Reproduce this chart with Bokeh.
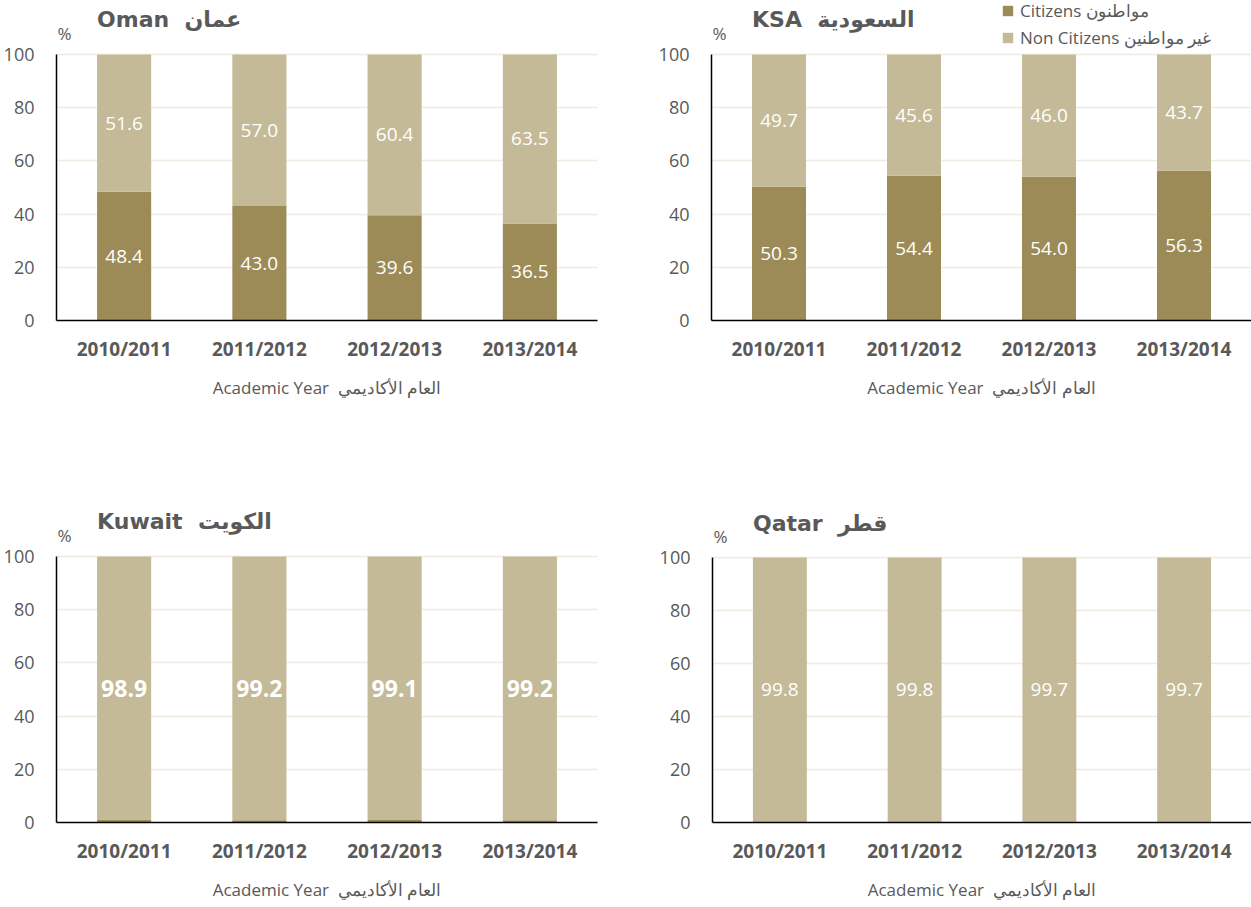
from bokeh.plotting import figure
from bokeh.models import ColumnDataSource, FactorRange, Range1d, LabelSet, Label, Legend, LegendItem, FixedTicker
from bokeh.layouts import column, row
from bokeh.embed import file_html
from bokeh.resources import INLINE
from bokeh.core.properties import value

years = ["2010/2011", "2011/2012", "2012/2013", "2013/2014"]

oman_citizens = [48.4, 43.0, 39.6, 36.5]
oman_non = [51.6, 57.0, 60.4, 63.5]
ksa_citizens = [50.3, 54.4, 54.0, 56.3]
ksa_non = [49.7, 45.6, 46.0, 43.7]
kuwait_citizens = [1.1, 0.8, 0.9, 0.8]
kuwait_non = [98.9, 99.2, 99.1, 99.2]
qatar_citizens = [0.2, 0.2, 0.3, 0.3]
qatar_non = [99.8, 99.8, 99.7, 99.7]

NB = "\u00a0\u00a0"
titles = ["Oman" + NB + "عمان", "KSA" + NB + "السعودية", "Kuwait" + NB + "الكويت", "Qatar" + NB + "قطر"]
legend_labels = ["Citizens مواطنون", "Non Citizens غير مواطنين"]
x_title = "Academic Year" + NB + "العام الأكاديمي"
y_ticks = [0, 20, 40, 60, 80, 100]

C_CIT = "#9C8B56"
C_NON = "#C4BA98"
GREY = "#595959"
FONT = "Open Sans"


def panel(title, cit, non, width, height, left, right, bottom, y_top,
          show_cit_labels=True, bold_labels=False, legend=False):
    p = figure(width=width, height=height, x_range=FactorRange(*years),
               y_range=Range1d(0, y_top), output_backend="svg", toolbar_location=None,
               min_border_left=left, min_border_right=right,
               min_border_top=0, min_border_bottom=bottom, title=None)
    p.outline_line_color = None
    src = ColumnDataSource(dict(
        year=years, cit=cit, non=non,
        cit_mid=[c / 2 for c in cit],
        non_mid=[c + n / 2 for c, n in zip(cit, non)],
        cit_txt=["%.1f" % c for c in cit],
        non_txt=["%.1f" % n for n in non],
    ))
    rs = p.vbar_stack(["cit", "non"], x="year", width=0.4, color=[C_CIT, C_NON],
                      line_color=None, source=src)

    fs = "23px" if bold_labels else "19px"
    fstyle = "bold" if bold_labels else "normal"
    p.add_layout(LabelSet(x="year", y="non_mid", text="non_txt", source=src,
                          text_color="white", text_font=value(FONT), text_font_size=fs,
                          text_font_style=fstyle, text_align="center", text_baseline="middle"))
    if show_cit_labels:
        p.add_layout(LabelSet(x="year", y="cit_mid", text="cit_txt", source=src,
                              text_color="white", text_font=value(FONT), text_font_size=fs,
                              text_font_style=fstyle, text_align="center", text_baseline="middle"))

    # axes
    p.yaxis.ticker = FixedTicker(ticks=y_ticks)
    p.yaxis.bounds = (0, 100)
    for ax in (p.xaxis, p.yaxis):
        ax.axis_line_color = "black"
        ax.axis_line_width = 1.5
        ax.major_tick_line_color = None
        ax.minor_tick_line_color = None
        ax.major_label_text_color = GREY
        ax.major_label_text_font = FONT
    p.yaxis.major_label_text_font_size = "18px"
    p.yaxis.major_label_standoff = 16
    p.xaxis.major_label_text_font_size = "19px"
    p.xaxis.major_label_text_font_style = "bold"
    p.xaxis.major_label_standoff = 9
    p.xaxis.axis_label = x_title
    p.xaxis.axis_label_text_font = FONT
    p.xaxis.axis_label_text_font_size = "17px"
    p.xaxis.axis_label_text_font_style = "normal"
    p.xaxis.axis_label_text_color = GREY
    p.xaxis.axis_label_standoff = 11
    p.xgrid.grid_line_color = None
    p.ygrid.grid_line_color = "#EEEBE0"
    p.ygrid.grid_line_width = 1.5
    p.ygrid.ticker = FixedTicker(ticks=y_ticks)

    p.add_layout(Label(x=0.3, y=113, text=title,
                       text_font="DejaVu Sans", text_font_style="bold",
                       text_font_size="22px", text_color=GREY, text_baseline="middle"))
    p.add_layout(Label(x=0.0, y=108, text="%", x_offset=1,
                       text_font=FONT, text_font_size="17px", text_color=GREY,
                       text_align="left", text_baseline="middle"))

    if legend:
        fh = height - bottom
        lg = Legend(items=[LegendItem(label=legend_labels[0], renderers=[rs[0]]),
                           LegendItem(label=legend_labels[1], renderers=[rs[1]])],
                    location=(290, fh - 49), orientation="vertical",
                    glyph_width=13, glyph_height=13, label_standoff=6,
                    label_height=20, spacing=4, padding=0, margin=0,
                    label_text_font=FONT, label_text_font_size="17px",
                    label_text_color=GREY, border_line_color=None,
                    background_fill_alpha=0)
        p.add_layout(lg, "center")
    return p


p1 = panel(titles[0], oman_citizens, oman_non, 625, 440, 54, 28, 120, 100 * 320 / 266)
p2 = panel(titles[1], ksa_citizens, ksa_non, 626, 440, 86, 0, 120, 100 * 320 / 266, legend=True)
p3 = panel(titles[2], kuwait_citizens, kuwait_non, 625, 467, 55, 28, 85, 100 * 382 / 266,
           show_cit_labels=False, bold_labels=True)
p4 = panel(titles[3], qatar_citizens, qatar_non, 626, 467, 87, 0, 82, 100 * 385 / 267,
           show_cit_labels=False)

layout = column(row(p1, p2), row(p3, p4))
open("out.html", "w").write(file_html(layout, INLINE))
